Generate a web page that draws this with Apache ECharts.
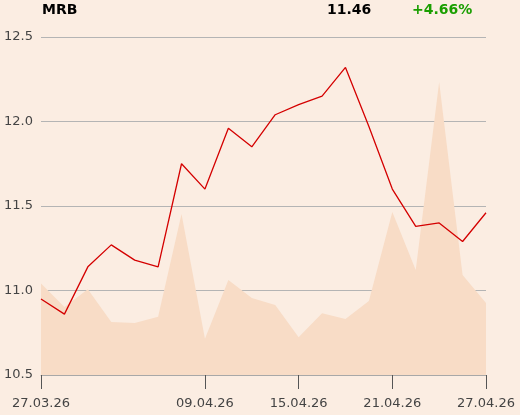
<!DOCTYPE html>
<html>
<head>
<meta charset="utf-8">
<script src="https://cdn.jsdelivr.net/npm/echarts@6/dist/echarts.min.js"></script>
<style>
html,body{margin:0;padding:0;background:#fbede2;}
#c{width:520px;height:415px;}
</style>
</head>
<body>
<div id="c"></div>
<script>
var ticker = 'MRB';
var lastPrice = '11.46';
var change = '+4.66%';
var dates = ['27.03.26','30.03.26','31.03.26','01.04.26','02.04.26','07.04.26','08.04.26','09.04.26','10.04.26','13.04.26','14.04.26','15.04.26','16.04.26','17.04.26','20.04.26','21.04.26','22.04.26','23.04.26','24.04.26','27.04.26'];
var prices = [10.95,10.86,11.14,11.27,11.18,11.14,11.75,11.60,11.96,11.85,12.04,12.10,12.15,12.32,11.97,11.60,11.38,11.40,11.29,11.46];
var volumes = [27.1,20.1,25.4,15.7,15.4,17.2,47.6,10.7,28.1,22.8,20.7,11.2,18.3,16.6,21.9,48.2,31.1,86.7,29.6,21.3];
var labelDates = ['27.03.26','09.04.26','15.04.26','21.04.26','27.04.26'];
var yTicks = [10.5,11.0,11.5,12.0,12.5];

var chart = echarts.init(document.getElementById('c'));
function showIdx(i){ return labelDates.indexOf(dates[i]) >= 0; }
chart.setOption({
  backgroundColor: '#fbede2',
  animation: false,
  textStyle: {fontFamily: 'DejaVu Sans'},
  graphic: [
    {type:'text', left: 42, top: 3, style:{text: ticker, font:'bold 14px "DejaVu Sans"', fill:'#000'}},
    {type:'text', left: 327, top: 3, style:{text: lastPrice, font:'bold 14px "DejaVu Sans"', fill:'#000'}},
    {type:'text', left: 412, top: 3, style:{text: change, font:'bold 14px "DejaVu Sans"', fill:'#1a9e00'}}
  ],
  grid: {left: 41, right: 34, top: 37, bottom: 40, containLabel: false},
  xAxis: {
    type: 'category',
    data: dates,
    boundaryGap: false,
    axisLine: {show: true, lineStyle: {color: '#a8a8a8', width: 1}},
    axisTick: {show: true, length: 14, interval: function(i){return showIdx(i);}, lineStyle: {color: '#555'}},
    axisLabel: {interval: function(i){return showIdx(i);}, color: '#444', fontSize: 13, margin: 22, fontFamily: 'DejaVu Sans', showMaxLabel: true},
    splitLine: {show: false}
  },
  yAxis: [{
    type: 'value',
    min: 10.5, max: 12.5, interval: 0.5,
    axisLine: {show: false},
    axisTick: {show: false},
    axisLabel: {color: '#444', fontSize: 13, margin: 8, fontFamily: 'DejaVu Sans', formatter: function(v){return v.toFixed(1);}},
    splitLine: {show: true, lineStyle: {color: '#b4b4b4', width: 1}}
  },{
    type: 'value', min: 0, max: 100, show: false, splitLine: {show: false}
  }],
  series: [{
    type: 'line',
    yAxisIndex: 1,
    data: volumes,
    symbol: 'none',
    lineStyle: {width: 0},
    areaStyle: {color: '#f8dcc6', opacity: 1},
    z: 1
  },{
    type: 'line',
    data: prices,
    symbol: 'none',
    lineStyle: {color: '#d40000', width: 1.3},
    z: 3
  }]
});
</script>
</body>
</html>
